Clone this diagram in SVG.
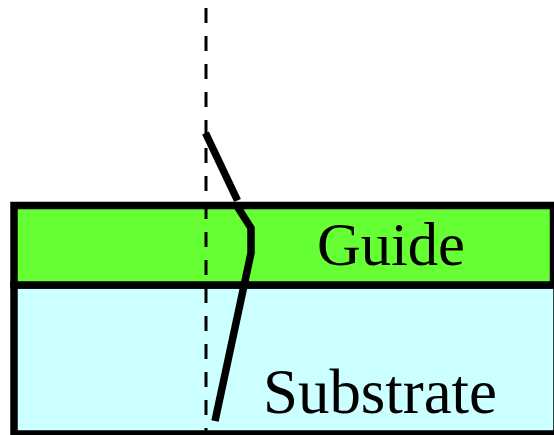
<svg xmlns="http://www.w3.org/2000/svg" width="554" height="435" viewBox="0 0 554 435">
  <style>
    .layer { stroke: #000; stroke-width: 7.5; }
    .label { font-family: "Liberation Serif", "Times New Roman", serif; fill: #000; }
    .ray { fill: none; stroke: #000; stroke-width: 7.5; stroke-linejoin: miter; stroke-linecap: butt; }
    .normal { fill: none; stroke: #000; stroke-width: 3; stroke-dasharray: 15 13; stroke-dashoffset: 20; }
  </style>
  <rect width="554" height="435" fill="#fff"/>
  <g id="substrate">
    <rect class="layer" x="14" y="285" width="543" height="149" fill="#ccffff"/>
    <text class="label" x="263" y="413" font-size="64" textLength="234" lengthAdjust="spacingAndGlyphs">Substrate</text>
  </g>
  <g id="guide">
    <rect class="layer" x="14" y="205.5" width="539.5" height="79.5" fill="#66ff33"/>
    <text class="label" x="317" y="265" font-size="61" textLength="148" lengthAdjust="spacingAndGlyphs">Guide</text>
  </g>
  <g id="connectors">
    <line class="normal" x1="206" y1="0" x2="206" y2="435"/>
    <line class="ray" x1="205.5" y1="133" x2="237.5" y2="200.5"/>
    <polyline class="ray" points="237,206 251,228 251,253 215,421"/>
  </g>
</svg>
